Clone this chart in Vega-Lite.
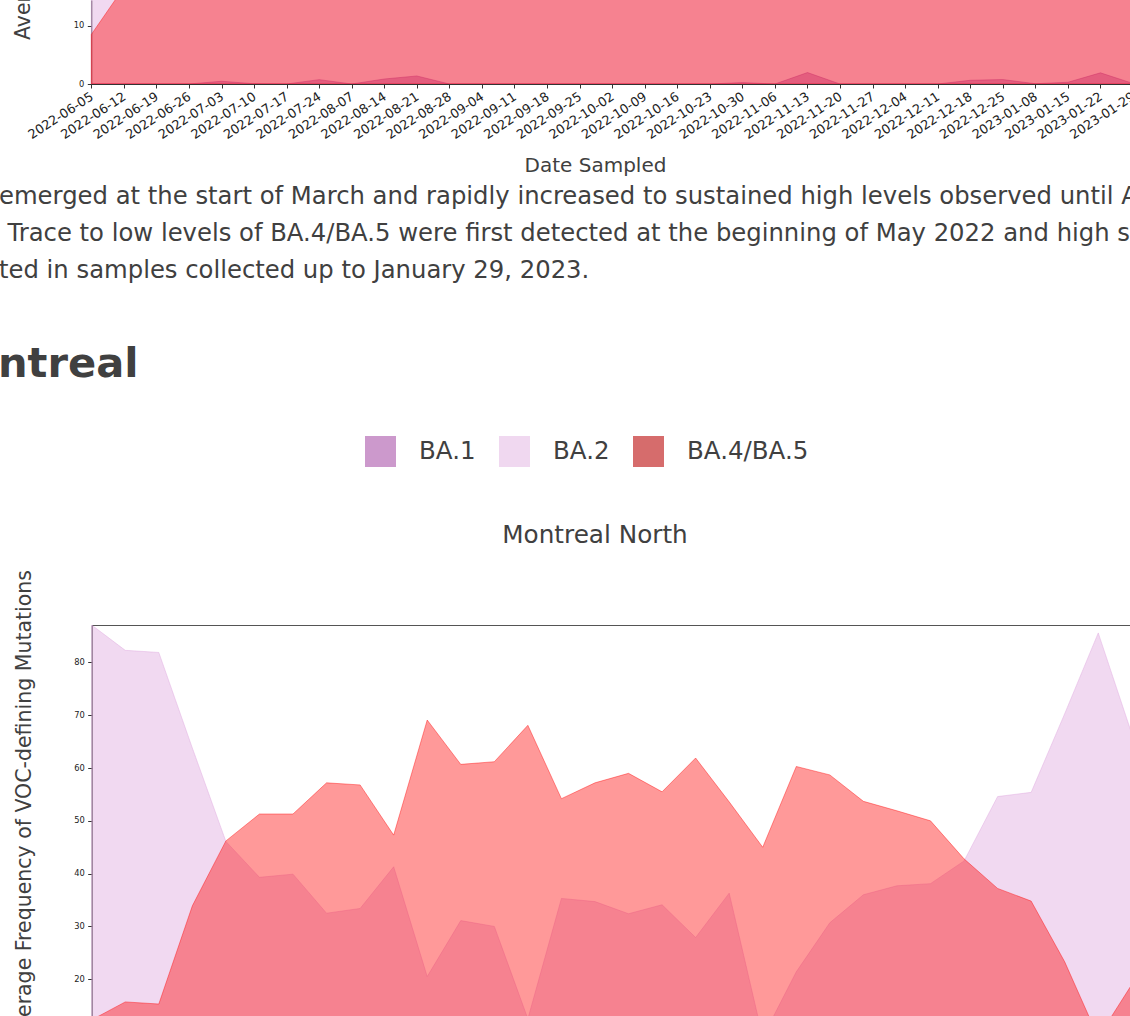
{
  "$schema": "https://vega.github.io/schema/vega-lite/v6.json",
  "padding": 0,
  "background": "white",
  "spacing": 0,
  "bounds": "flush",
  "resolve": {"scale": {"color": "independent"}, "legend": {"color": "independent"}},
  "config": {
    "font": "DejaVu Sans",
    "view": {"stroke": null},
    "axis": {"grid": false, "domainColor": "#333333", "tickColor": "#333333", "labelColor": "#222222", "titleColor": "#404040", "titleFontWeight": "normal", "labelFont": "DejaVu Sans", "titleFont": "DejaVu Sans", "domainWidth": 1, "tickWidth": 1}
  },
  "datasets": {
    "prev": [
      {"date":"2022-06-05","variant":"BA.1","freq":0},{"date":"2022-06-12","variant":"BA.1","freq":0},{"date":"2022-06-19","variant":"BA.1","freq":0},{"date":"2022-06-26","variant":"BA.1","freq":0},{"date":"2022-07-03","variant":"BA.1","freq":0.47},{"date":"2022-07-10","variant":"BA.1","freq":0.05},{"date":"2022-07-17","variant":"BA.1","freq":0},{"date":"2022-07-24","variant":"BA.1","freq":0.75},{"date":"2022-08-07","variant":"BA.1","freq":0},{"date":"2022-08-14","variant":"BA.1","freq":0.86},{"date":"2022-08-21","variant":"BA.1","freq":1.38},{"date":"2022-08-28","variant":"BA.1","freq":0},{"date":"2022-09-04","variant":"BA.1","freq":0},{"date":"2022-09-11","variant":"BA.1","freq":0},{"date":"2022-09-18","variant":"BA.1","freq":0},{"date":"2022-09-25","variant":"BA.1","freq":0},{"date":"2022-10-02","variant":"BA.1","freq":0},{"date":"2022-10-09","variant":"BA.1","freq":0},{"date":"2022-10-16","variant":"BA.1","freq":0},{"date":"2022-10-23","variant":"BA.1","freq":0},{"date":"2022-10-30","variant":"BA.1","freq":0.24},{"date":"2022-11-06","variant":"BA.1","freq":0},{"date":"2022-11-13","variant":"BA.1","freq":1.97},{"date":"2022-11-20","variant":"BA.1","freq":0},{"date":"2022-11-27","variant":"BA.1","freq":0},{"date":"2022-12-04","variant":"BA.1","freq":0},{"date":"2022-12-11","variant":"BA.1","freq":0},{"date":"2022-12-18","variant":"BA.1","freq":0.64},{"date":"2022-12-25","variant":"BA.1","freq":0.76},{"date":"2023-01-08","variant":"BA.1","freq":0.05},{"date":"2023-01-15","variant":"BA.1","freq":0.3},{"date":"2023-01-22","variant":"BA.1","freq":1.92},{"date":"2023-01-29","variant":"BA.1","freq":0.1},
      {"date":"2022-06-05","variant":"BA.2","freq":60},{"date":"2022-06-12","variant":"BA.2","freq":45},{"date":"2022-06-19","variant":"BA.2","freq":35},{"date":"2022-06-26","variant":"BA.2","freq":30},{"date":"2022-07-03","variant":"BA.2","freq":28},{"date":"2022-07-10","variant":"BA.2","freq":25},{"date":"2022-07-17","variant":"BA.2","freq":24},{"date":"2022-07-24","variant":"BA.2","freq":22},{"date":"2022-08-07","variant":"BA.2","freq":20},{"date":"2022-08-14","variant":"BA.2","freq":22},{"date":"2022-08-21","variant":"BA.2","freq":25},{"date":"2022-08-28","variant":"BA.2","freq":24},{"date":"2022-09-04","variant":"BA.2","freq":22},{"date":"2022-09-11","variant":"BA.2","freq":20},{"date":"2022-09-18","variant":"BA.2","freq":21},{"date":"2022-09-25","variant":"BA.2","freq":23},{"date":"2022-10-02","variant":"BA.2","freq":25},{"date":"2022-10-09","variant":"BA.2","freq":22},{"date":"2022-10-16","variant":"BA.2","freq":20},{"date":"2022-10-23","variant":"BA.2","freq":21},{"date":"2022-10-30","variant":"BA.2","freq":24},{"date":"2022-11-06","variant":"BA.2","freq":26},{"date":"2022-11-13","variant":"BA.2","freq":25},{"date":"2022-11-20","variant":"BA.2","freq":22},{"date":"2022-11-27","variant":"BA.2","freq":20},{"date":"2022-12-04","variant":"BA.2","freq":21},{"date":"2022-12-11","variant":"BA.2","freq":24},{"date":"2022-12-18","variant":"BA.2","freq":30},{"date":"2022-12-25","variant":"BA.2","freq":35},{"date":"2023-01-08","variant":"BA.2","freq":40},{"date":"2023-01-15","variant":"BA.2","freq":45},{"date":"2023-01-22","variant":"BA.2","freq":50},{"date":"2023-01-29","variant":"BA.2","freq":55},
      {"date":"2022-06-05","variant":"BA.4/BA.5","freq":8.5},{"date":"2022-06-12","variant":"BA.4/BA.5","freq":16.6},{"date":"2022-06-19","variant":"BA.4/BA.5","freq":30},{"date":"2022-06-26","variant":"BA.4/BA.5","freq":40},{"date":"2022-07-03","variant":"BA.4/BA.5","freq":50},{"date":"2022-07-10","variant":"BA.4/BA.5","freq":55},{"date":"2022-07-17","variant":"BA.4/BA.5","freq":58},{"date":"2022-07-24","variant":"BA.4/BA.5","freq":60},{"date":"2022-08-07","variant":"BA.4/BA.5","freq":62},{"date":"2022-08-14","variant":"BA.4/BA.5","freq":60},{"date":"2022-08-21","variant":"BA.4/BA.5","freq":58},{"date":"2022-08-28","variant":"BA.4/BA.5","freq":62},{"date":"2022-09-04","variant":"BA.4/BA.5","freq":65},{"date":"2022-09-11","variant":"BA.4/BA.5","freq":63},{"date":"2022-09-18","variant":"BA.4/BA.5","freq":60},{"date":"2022-09-25","variant":"BA.4/BA.5","freq":58},{"date":"2022-10-02","variant":"BA.4/BA.5","freq":62},{"date":"2022-10-09","variant":"BA.4/BA.5","freq":60},{"date":"2022-10-16","variant":"BA.4/BA.5","freq":58},{"date":"2022-10-23","variant":"BA.4/BA.5","freq":55},{"date":"2022-10-30","variant":"BA.4/BA.5","freq":57},{"date":"2022-11-06","variant":"BA.4/BA.5","freq":60},{"date":"2022-11-13","variant":"BA.4/BA.5","freq":58},{"date":"2022-11-20","variant":"BA.4/BA.5","freq":56},{"date":"2022-11-27","variant":"BA.4/BA.5","freq":55},{"date":"2022-12-04","variant":"BA.4/BA.5","freq":53},{"date":"2022-12-11","variant":"BA.4/BA.5","freq":50},{"date":"2022-12-18","variant":"BA.4/BA.5","freq":45},{"date":"2022-12-25","variant":"BA.4/BA.5","freq":40},{"date":"2023-01-08","variant":"BA.4/BA.5","freq":35},{"date":"2023-01-15","variant":"BA.4/BA.5","freq":30},{"date":"2023-01-22","variant":"BA.4/BA.5","freq":25},{"date":"2023-01-29","variant":"BA.4/BA.5","freq":22}
    ],
    "north": [
      {"date":"2022-06-12","variant":"BA.1","freq":1.5},{"date":"2022-06-19","variant":"BA.1","freq":0.8},{"date":"2022-06-26","variant":"BA.1","freq":0.5},{"date":"2022-07-03","variant":"BA.1","freq":0},{"date":"2022-07-10","variant":"BA.1","freq":0},{"date":"2022-07-17","variant":"BA.1","freq":0.3},{"date":"2022-07-24","variant":"BA.1","freq":0},{"date":"2022-08-07","variant":"BA.1","freq":0},{"date":"2022-08-14","variant":"BA.1","freq":0.4},{"date":"2022-08-21","variant":"BA.1","freq":0},{"date":"2022-08-28","variant":"BA.1","freq":0},{"date":"2022-09-04","variant":"BA.1","freq":0},{"date":"2022-09-11","variant":"BA.1","freq":0.6},{"date":"2022-09-18","variant":"BA.1","freq":0},{"date":"2022-09-25","variant":"BA.1","freq":0},{"date":"2022-10-02","variant":"BA.1","freq":0},{"date":"2022-10-09","variant":"BA.1","freq":0},{"date":"2022-10-16","variant":"BA.1","freq":0.5},{"date":"2022-10-23","variant":"BA.1","freq":0},{"date":"2022-10-30","variant":"BA.1","freq":0},{"date":"2022-11-06","variant":"BA.1","freq":0},{"date":"2022-11-13","variant":"BA.1","freq":0},{"date":"2022-11-20","variant":"BA.1","freq":0},{"date":"2022-11-27","variant":"BA.1","freq":0.8},{"date":"2022-12-04","variant":"BA.1","freq":0},{"date":"2022-12-11","variant":"BA.1","freq":0},{"date":"2022-12-18","variant":"BA.1","freq":0},{"date":"2022-12-25","variant":"BA.1","freq":0.5},{"date":"2023-01-08","variant":"BA.1","freq":0},{"date":"2023-01-15","variant":"BA.1","freq":0},{"date":"2023-01-22","variant":"BA.1","freq":1.2},{"date":"2023-01-29","variant":"BA.1","freq":0},
      {"date":"2022-06-12","variant":"BA.2","freq":87.1},{"date":"2022-06-19","variant":"BA.2","freq":82.3},{"date":"2022-06-26","variant":"BA.2","freq":81.9},{"date":"2022-07-03","variant":"BA.2","freq":63.8},{"date":"2022-07-10","variant":"BA.2","freq":46.1},{"date":"2022-07-17","variant":"BA.2","freq":39.3},{"date":"2022-07-24","variant":"BA.2","freq":39.9},{"date":"2022-08-07","variant":"BA.2","freq":32.5},{"date":"2022-08-14","variant":"BA.2","freq":33.4},{"date":"2022-08-21","variant":"BA.2","freq":41.3},{"date":"2022-08-28","variant":"BA.2","freq":20.5},{"date":"2022-09-04","variant":"BA.2","freq":31.1},{"date":"2022-09-11","variant":"BA.2","freq":30.0},{"date":"2022-09-18","variant":"BA.2","freq":12.5},{"date":"2022-09-25","variant":"BA.2","freq":35.3},{"date":"2022-10-02","variant":"BA.2","freq":34.7},{"date":"2022-10-09","variant":"BA.2","freq":32.4},{"date":"2022-10-16","variant":"BA.2","freq":34.1},{"date":"2022-10-23","variant":"BA.2","freq":27.9},{"date":"2022-10-30","variant":"BA.2","freq":36.3},{"date":"2022-11-06","variant":"BA.2","freq":9},{"date":"2022-11-13","variant":"BA.2","freq":21.4},{"date":"2022-11-20","variant":"BA.2","freq":30.7},{"date":"2022-11-27","variant":"BA.2","freq":36.0},{"date":"2022-12-04","variant":"BA.2","freq":37.7},{"date":"2022-12-11","variant":"BA.2","freq":38.1},{"date":"2022-12-18","variant":"BA.2","freq":42.4},{"date":"2022-12-25","variant":"BA.2","freq":54.6},{"date":"2023-01-08","variant":"BA.2","freq":55.4},{"date":"2023-01-15","variant":"BA.2","freq":70.3},{"date":"2023-01-22","variant":"BA.2","freq":85.6},{"date":"2023-01-29","variant":"BA.2","freq":66.5},
      {"date":"2022-06-12","variant":"BA.4/BA.5","freq":12.3},{"date":"2022-06-19","variant":"BA.4/BA.5","freq":15.7},{"date":"2022-06-26","variant":"BA.4/BA.5","freq":15.3},{"date":"2022-07-03","variant":"BA.4/BA.5","freq":33.9},{"date":"2022-07-10","variant":"BA.4/BA.5","freq":46.2},{"date":"2022-07-17","variant":"BA.4/BA.5","freq":51.3},{"date":"2022-07-24","variant":"BA.4/BA.5","freq":51.3},{"date":"2022-08-07","variant":"BA.4/BA.5","freq":57.2},{"date":"2022-08-14","variant":"BA.4/BA.5","freq":56.8},{"date":"2022-08-21","variant":"BA.4/BA.5","freq":47.3},{"date":"2022-08-28","variant":"BA.4/BA.5","freq":69.1},{"date":"2022-09-04","variant":"BA.4/BA.5","freq":60.7},{"date":"2022-09-11","variant":"BA.4/BA.5","freq":61.2},{"date":"2022-09-18","variant":"BA.4/BA.5","freq":68.1},{"date":"2022-09-25","variant":"BA.4/BA.5","freq":54.2},{"date":"2022-10-02","variant":"BA.4/BA.5","freq":57.2},{"date":"2022-10-09","variant":"BA.4/BA.5","freq":59.0},{"date":"2022-10-16","variant":"BA.4/BA.5","freq":55.5},{"date":"2022-10-23","variant":"BA.4/BA.5","freq":61.9},{"date":"2022-10-30","variant":"BA.4/BA.5","freq":53.6},{"date":"2022-11-06","variant":"BA.4/BA.5","freq":45.0},{"date":"2022-11-13","variant":"BA.4/BA.5","freq":60.3},{"date":"2022-11-20","variant":"BA.4/BA.5","freq":58.7},{"date":"2022-11-27","variant":"BA.4/BA.5","freq":53.7},{"date":"2022-12-04","variant":"BA.4/BA.5","freq":51.9},{"date":"2022-12-11","variant":"BA.4/BA.5","freq":50.0},{"date":"2022-12-18","variant":"BA.4/BA.5","freq":42.8},{"date":"2022-12-25","variant":"BA.4/BA.5","freq":37.2},{"date":"2023-01-08","variant":"BA.4/BA.5","freq":34.8},{"date":"2023-01-15","variant":"BA.4/BA.5","freq":23.3},{"date":"2023-01-22","variant":"BA.4/BA.5","freq":9},{"date":"2023-01-29","variant":"BA.4/BA.5","freq":19}
    ]
  },
  "vconcat": [
    {
      "width": 1130,
      "height": 84,
      "layer": [
        {
          "data": {"name": "prev"},
          "mark": {"type": "area", "clip": true, "fillOpacity": 0.4, "strokeOpacity": 0.4, "strokeWidth": 1},
          "encoding": {
            "x": {"field": "date", "type": "ordinal", "scale": {"type": "point", "padding": 0, "range": [91.3, 1133]},
              "axis": {"title": "Date Sampled", "titleFontSize": 20, "titleX": 595, "titleY": 87, "titleAlign": "center", "titleBaseline": "alphabetic", "labelAngle": -33, "labelAlign": "right", "labelBaseline": "top", "labelFontSize": 12.8, "labelPadding": 2, "labelOffset": -3, "tickSize": 4, "labelOverlap": false}},
            "y": {"field": "freq", "type": "quantitative", "stack": null, "scale": {"domain": [0, 14.43], "nice": false},
              "axis": {"title": null, "values": [0, 10], "offset": -91.3, "tickSize": 4, "labelFontSize": 8.3, "labelPadding": 3.5}},
            "fill": {"field": "variant", "type": "nominal", "scale": {"domain": ["BA.1", "BA.2", "BA.4/BA.5"], "range": ["purple", "plum", "red"]}, "legend": null},
            "stroke": {"field": "variant", "type": "nominal", "scale": {"domain": ["BA.1", "BA.2", "BA.4/BA.5"], "range": ["purple", "plum", "red"]}, "legend": null}
          }
        },
        {
          "data": {"values": [{"label": "Average Frequency of VOC-defining Mutations"}]},
          "mark": {"type": "text", "clip": true, "angle": 270, "align": "left", "baseline": "alphabetic", "fontSize": 20.5, "color": "#404040", "x": 29.5, "y": 40},
          "encoding": {"text": {"field": "label", "type": "nominal"}}
        }
      ]
    },
    {
      "width": 1130,
      "height": 541,
      "layer": [
        {
          "data": {"values": [{"line": "emerged at the start of March and rapidly increased to sustained high levels observed until April"}]},
          "mark": {"type": "text", "clip": true, "align": "left", "baseline": "alphabetic", "fontSize": 24.3, "color": "#404040", "x": -1, "y": 120.3},
          "encoding": {"text": {"field": "line", "type": "nominal"}}
        },
        {
          "data": {"values": [{"line": "Trace to low levels of BA.4/BA.5 were first detected at the beginning of May 2022 and high sustained"}]},
          "mark": {"type": "text", "clip": true, "align": "left", "baseline": "alphabetic", "fontSize": 24.3, "color": "#404040", "x": 7.4, "y": 157.3},
          "encoding": {"text": {"field": "line", "type": "nominal"}}
        },
        {
          "data": {"values": [{"line": "ted in samples collected up to January 29, 2023."}]},
          "mark": {"type": "text", "clip": true, "align": "left", "baseline": "alphabetic", "fontSize": 24.3, "color": "#404040", "x": -1, "y": 194.3},
          "encoding": {"text": {"field": "line", "type": "nominal"}}
        },
        {
          "data": {"values": [{"heading": "Montreal"}]},
          "mark": {"type": "text", "clip": true, "align": "left", "baseline": "alphabetic", "fontSize": 41.6, "fontWeight": "bold", "color": "#404040", "x": -72, "y": 292.7},
          "encoding": {"text": {"field": "heading", "type": "nominal"}}
        },
        {
          "data": {"values": [{"site": "Montreal North"}]},
          "mark": {"type": "text", "align": "center", "baseline": "alphabetic", "fontSize": 24.7, "color": "#404040", "x": 595, "y": 459.3},
          "encoding": {"text": {"field": "site", "type": "nominal"}}
        },
        {
          "data": {"values": [{"variant": "BA.1"}, {"variant": "BA.2"}, {"variant": "BA.4/BA.5"}]},
          "mark": {"type": "square", "opacity": 0, "size": 1, "x": 600, "y": 300},
          "encoding": {
            "color": {"field": "variant", "type": "nominal", "scale": {"domain": ["BA.1", "BA.2", "BA.4/BA.5"], "range": ["#CC99CC", "#F0D8F0", "#D66C6C"]},
              "legend": {"orient": "none", "legendX": 365, "legendY": 352, "direction": "horizontal", "title": null, "symbolType": "square", "symbolSize": 961, "symbolStrokeWidth": 0, "symbolOpacity": 1, "labelFontSize": 24.5, "labelOffset": 23, "columnPadding": 23, "labelColor": "#404040", "labelFont": "DejaVu Sans", "labelLimit": 400}}
          }
        }
      ]
    },
    {
      "width": 1130,
      "height": 459.8,
      "data": {"name": "north"},
      "resolve": {"axis": {"x": "independent"}},
      "layer": [
        {
          "mark": {"type": "area", "clip": true, "fillOpacity": 0.4, "strokeOpacity": 0.4, "strokeWidth": 1},
          "encoding": {
            "x": {"field": "date", "type": "ordinal", "scale": {"type": "point", "padding": 0, "range": [91.7, 1131.8]},
              "axis": {"title": "Date Sampled", "titleFontSize": 20, "titleX": 595, "titleY": 87, "titleAlign": "center", "titleBaseline": "alphabetic", "labelAngle": -33, "labelAlign": "right", "labelBaseline": "top", "labelFontSize": 12.8, "labelPadding": 2, "labelOffset": -3, "tickSize": 4, "labelOverlap": false}},
            "y": {"field": "freq", "type": "quantitative", "stack": null, "scale": {"domain": [0, 87.1], "nice": false},
              "axis": {"title": "Average Frequency of VOC-defining Mutations", "titleFontSize": 20.5, "titleX": -61, "titleY": 180.5, "titleAngle": 270, "titleAlign": "center", "titleBaseline": "alphabetic", "values": [0, 10, 20, 30, 40, 50, 60, 70, 80], "offset": -91.7, "tickSize": 4, "labelFontSize": 8.3, "labelPadding": 3.5}},
            "fill": {"field": "variant", "type": "nominal", "scale": {"domain": ["BA.1", "BA.2", "BA.4/BA.5"], "range": ["purple", "plum", "red"]}, "legend": null},
            "stroke": {"field": "variant", "type": "nominal", "scale": {"domain": ["BA.1", "BA.2", "BA.4/BA.5"], "range": ["purple", "plum", "red"]}, "legend": null}
          }
        },
        {
          "mark": {"type": "text", "text": ""},
          "encoding": {
            "x": {"field": "date", "type": "ordinal", "axis": {"orient": "top", "labels": false, "ticks": false, "title": null, "domainColor": "#555555"}}
          }
        }
      ]
    }
  ]
}
